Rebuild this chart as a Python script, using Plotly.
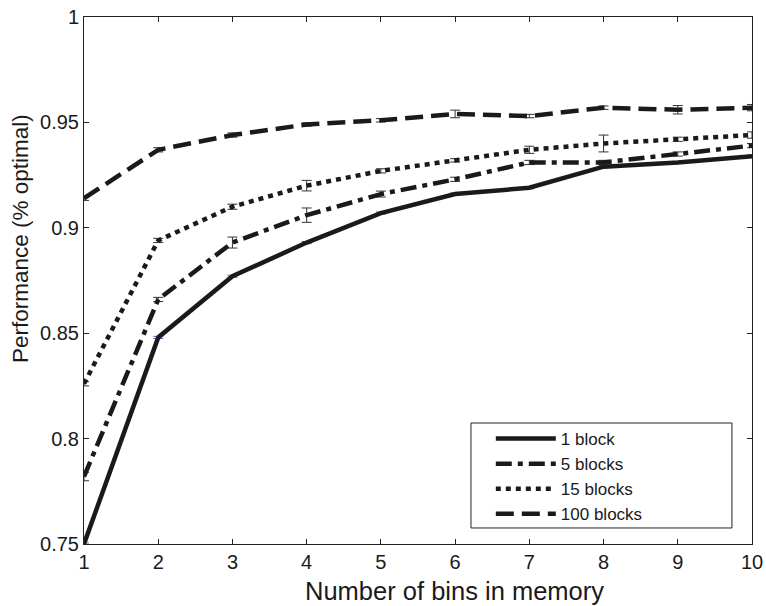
import plotly.graph_objects as go

bins = [1, 2, 3, 4, 5, 6, 7, 8, 9, 10]
series_names = ["1 block", "5 blocks", "15 blocks", "100 blocks"]
one_block = [0.750, 0.848, 0.877, 0.893, 0.907, 0.916, 0.919, 0.929, 0.931, 0.934]
five_blocks = [0.782, 0.866, 0.893, 0.906, 0.916, 0.923, 0.931, 0.931, 0.935, 0.939]
fifteen_blocks = [0.826, 0.894, 0.910, 0.920, 0.927, 0.932, 0.937, 0.940, 0.942, 0.944]
hundred_blocks = [0.914, 0.937, 0.944, 0.949, 0.951, 0.954, 0.953, 0.957, 0.956, 0.957]

one_err = [0.0005, 0.0005, 0.0005, 0.0005, 0.0005, 0.0005, 0.0005, 0.0005, 0.0005, 0.0005]
five_err = [0.002, 0.001, 0.0026, 0.0034, 0.0014, 0.001, 0.001, 0.001, 0.001, 0.001]
fifteen_err = [0.001, 0.001, 0.0012, 0.0025, 0.001, 0.0008, 0.0017, 0.004, 0.001, 0.0015]
hundred_err = [0.001, 0.001, 0.001, 0.0008, 0.0008, 0.0018, 0.0008, 0.0008, 0.002, 0.0015]

x_ticks = [1, 2, 3, 4, 5, 6, 7, 8, 9, 10]
y_ticks = [0.75, 0.8, 0.85, 0.9, 0.95, 1.0]
y_tick_labels = ["0.75", "0.8", "0.85", "0.9", "0.95", "1"]
x_title = "Number of bins in memory"
y_title = "Performance (% optimal)"

values = [one_block, five_blocks, fifteen_blocks, hundred_blocks]
errors = [one_err, five_err, fifteen_err, hundred_err]
dashes = ["solid", "16px,6px,5px,6px", "5px,5px", "18px,8px"]
err_colors = ["#5a64c8", "#333333", "#333333", "#333333"]

FONT = "Liberation Sans, Arial, Helvetica, sans-serif"

fig = go.Figure()
for name, vals, errs, dash, ec in zip(series_names, values, errors, dashes, err_colors):
    fig.add_trace(go.Scatter(
        x=bins, y=vals, name=name, mode="lines",
        line=dict(color="#1a1a1a", width=4.5, dash=dash),
        error_y=dict(type="data", array=errs, visible=True,
                     color=ec, thickness=1, width=5),
    ))

axis_common = dict(
    showline=True, linecolor="#222222", linewidth=1, mirror="ticks",
    ticks="inside", ticklen=5, tickcolor="#222222", showgrid=False,
    zeroline=False, automargin=False,
    tickfont=dict(family=FONT, size=20, color="#1a1a1a"),
)

fig.update_layout(
    width=766, height=606,
    margin=dict(l=84, r=14, t=17, b=62),
    paper_bgcolor="white", plot_bgcolor="white",
    font=dict(family=FONT, size=20, color="#1a1a1a"),
    xaxis=dict(range=[1, 10], tickvals=x_ticks, **axis_common),
    yaxis=dict(range=[0.75, 1.0], tickvals=y_ticks, ticktext=y_tick_labels,
               **axis_common),
    legend=dict(x=0.609, y=0.2334, xanchor="left", yanchor="top",
                bgcolor="rgba(0,0,0,0)", borderwidth=0,
                font=dict(family=FONT, size=17, color="#1a1a1a"),
                itemwidth=60, tracegroupgap=0),
    shapes=[dict(type="rect", xref="paper", yref="paper",
                 x0=0.5793, x1=0.970, y0=0.0304, y1=0.2296,
                 line=dict(color="#222222", width=1), fillcolor="white",
                 layer="above")],
    annotations=[
        dict(text=x_title, xref="paper", yref="paper", x=0.555, y=-0.089,
             xanchor="center", yanchor="middle", showarrow=False,
             font=dict(family=FONT, size=25.5, color="#1a1a1a")),
        dict(text=y_title, xref="paper", yref="paper", x=-0.0958, y=0.5787,
             xanchor="center", yanchor="middle", showarrow=False, textangle=-90,
             font=dict(family=FONT, size=22.5, color="#1a1a1a")),
    ],
    showlegend=True,
)

fig.write_html("out.html")
